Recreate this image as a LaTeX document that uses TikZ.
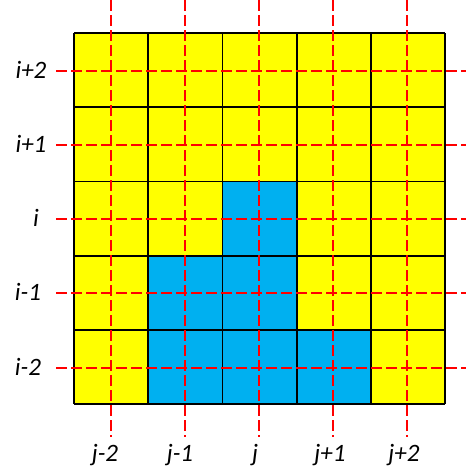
\documentclass[tikz,border=0pt]{standalone}
\usepackage{fontspec}
\setmainfont{Carlito}
\definecolor{cellyellow}{RGB}{255,255,0}
\definecolor{cellblue}{RGB}{0,176,240}
\definecolor{dashred}{RGB}{255,0,0}
\begin{document}
\begin{tikzpicture}[x=1pt,y=-1pt,
  cell/.style={draw=black,line width=1.8pt},
  guide/.style={draw=dashred,line width=2.6pt,dash pattern=on 11pt off 4pt},
  lbl/.style={font=\fontsize{25}{30}\selectfont\itshape,inner sep=0pt}]
\useasboundingbox (0,0) rectangle (466,474);
\def\cs{74.2}
% cells
\foreach \r in {0,...,4}{
  \foreach \c in {0,...,4}{
    \fill[cellyellow] ({74+\c*\cs},{33+\r*\cs}) rectangle ++(\cs,\cs);
  }
}
\foreach \r/\c in {2/2,3/1,3/2,4/1,4/2,4/3}{
  \fill[cellblue] ({74+\c*\cs},{33+\r*\cs}) rectangle ++(\cs,\cs);
}
\foreach \k in {0,...,5}{
  \draw[cell] ({74+\k*\cs},33) -- ({74+\k*\cs},{33+5*\cs});
  \draw[cell] (74,{33+\k*\cs}) -- ({74+5*\cs},{33+\k*\cs});
}
% guides
\foreach \n/\y/\t/\lx in {a/71/i+2/31,b/145/i+1/31,c/219/i/36,d/293/i-1/28,e/368/i-2/28}{
  \coordinate (h\n s) at (56,\y);
  \coordinate (h\n e) at (466,\y);
  \draw[guide] (h\n s) -- (h\n e);
  \node[lbl] (l\n) at (\lx,{\y-1}) {\t};
}
\foreach \n/\x/\t/\lx in {a/111/j-2/105,b/185/j-1/180,c/259/j/255,d/333/j+1/330,e/407/j+2/404}{
  \coordinate (v\n s) at (\x,0);
  \coordinate (v\n e) at (\x,437);
  \draw[guide] (v\n s) -- (v\n e);
  \node[lbl] (m\n) at (\lx,455) {\t};
}
\end{tikzpicture}
\end{document}
